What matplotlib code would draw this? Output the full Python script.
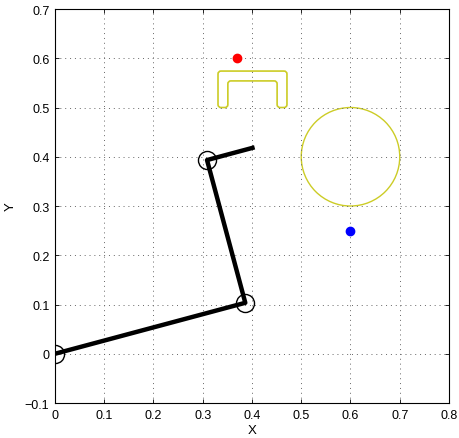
import numpy as np
import matplotlib.pyplot as plt
from matplotlib.path import Path
from matplotlib.patches import PathPatch, Circle

plt.rcParams['font.family'] = ['Liberation Sans', 'DejaVu Sans']

# arm joints (base, elbow, wrist, tip)
arm_x = [0.0, 0.3864, 0.3087, 0.4053]
arm_y = [0.0, 0.1035, 0.3933, 0.4192]

# goal and obstacle
goal = (0.37, 0.60)
start = (0.60, 0.25)
obs_center = (0.60, 0.40)
obs_radius = 0.10

# gripper outline (outer and inner edges of the bracket)
grip_x = [0.331, 0.331, 0.471, 0.471, 0.451, 0.451, 0.351, 0.351, 0.331]
grip_y = [0.500, 0.574, 0.574, 0.500, 0.500, 0.554, 0.554, 0.500, 0.500]


def rounded_path(xs, ys, r):
    # polygon with every corner replaced by a quadratic bezier
    pts = np.column_stack([xs[:-1], ys[:-1]])
    n = len(pts)
    verts, codes = [], []
    for i in range(n):
        p0, p1, p2 = pts[i - 1], pts[i], pts[(i + 1) % n]
        d0 = (p0 - p1) / np.linalg.norm(p0 - p1)
        d2 = (p2 - p1) / np.linalg.norm(p2 - p1)
        a, b = p1 + d0 * r, p1 + d2 * r
        verts += [a, p1, b]
        codes += [Path.MOVETO if i == 0 else Path.LINETO, Path.CURVE3, Path.CURVE3]
    verts.append(verts[0])
    codes.append(Path.LINETO)
    return Path(verts, codes)


fig = plt.figure(figsize=(4.59, 4.39), dpi=100)
ax = fig.add_axes([0.1198, 0.0797, 0.8584, 0.8975])

olive = (0.8, 0.8, 0.15)

ax.plot(arm_x[:-1], arm_y[:-1], 'o', ms=13, mfc='none', mec='k', mew=1.0, zorder=3)
ax.plot(arm_x, arm_y, '-', color='k', lw=3.2, solid_capstyle='butt', zorder=4)

ax.add_patch(PathPatch(rounded_path(grip_x, grip_y, 0.006), fill=False, ec=olive, lw=1.2))
ax.add_patch(Circle(obs_center, obs_radius, fill=False, ec=olive, lw=1.0))

ax.plot(*goal, 'o', color='red', ms=6)
ax.plot(*start, 'o', color='blue', ms=6)

ax.set_xlim(0, 0.8)
ax.set_ylim(-0.1, 0.7)
ax.set_xticks(np.arange(0, 0.81, 0.1))
ax.set_yticks(np.arange(-0.1, 0.71, 0.1))
ax.set_xticklabels(['0', '0.1', '0.2', '0.3', '0.4', '0.5', '0.6', '0.7', '0.8'])
ax.set_yticklabels(['\u22120.1', '0', '0.1', '0.2', '0.3', '0.4', '0.5', '0.6', '0.7'])
ax.tick_params(direction='in', length=3, width=0.6, labelsize=9, top=True, right=True, pad=4)
ax.grid(True, linestyle=(0, (1, 4)), color='0.4', lw=0.7)
for s in ax.spines.values():
    s.set_linewidth(0.8)
ax.set_xlabel('X', fontsize=9.5)
ax.set_ylabel('Y', fontsize=9.5)
ax.xaxis.set_label_coords(0.5, -0.053)
ax.yaxis.set_label_coords(-0.098, 0.5)

fig.savefig('out.png', dpi=100)
